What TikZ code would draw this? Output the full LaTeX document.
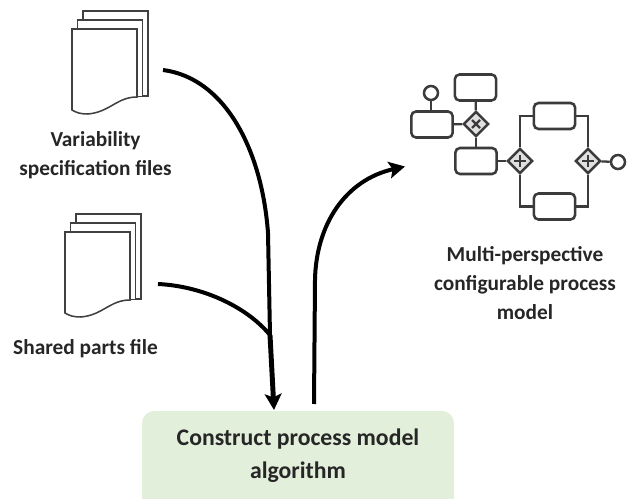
\documentclass[tikz,border=0pt]{standalone}
\usepackage{fontspec}
\setmainfont{Carlito}
\usetikzlibrary{arrows.meta}
\usetikzlibrary{shapes.geometric}
\usetikzlibrary{positioning}
\definecolor{linegray}{HTML}{3C3A3C}
\definecolor{boxgreen}{HTML}{E2EFDA}
\tikzset{sheet/.style={draw=black!75,fill=white,line width=1.15pt}}
\tikzset{flow/.style={line width=3pt,black,-{Stealth[length=12pt,width=12.5pt,inset=2.5pt]}}}
\tikzset{plain/.style={line width=3pt,black}}
\tikzset{task/.style={rectangle,rounded corners=3.5pt,draw=linegray,fill=white,line width=1.9pt,minimum width=31pt,minimum height=19.5pt,inner sep=0pt}}
\tikzset{gate/.style={diamond,draw=linegray,fill=black!12,line width=1.9pt,minimum size=19pt,inner sep=0pt}}
\tikzset{event/.style={circle,draw=linegray,fill=white,line width=1.9pt,minimum size=10.5pt,inner sep=0pt}}
\tikzset{link/.style={draw=linegray,line width=1.7pt}}
\tikzset{gatemark/.style={draw=linegray,line width=1.6pt}}
\tikzset{lbl/.style={font=\bfseries\fontsize{16}{22}\selectfont,text=black!85,align=center}}
\tikzset{algolbl/.style={font=\bfseries\fontsize{17.8}{24.5}\selectfont,text=black!85,align=center}}
\begin{document}
\begin{tikzpicture}[x=0.75pt,y=-0.75pt]
\useasboundingbox (0,0) rectangle (636,499);
% algorithm box runs off the bottom edge
\begin{scope}
\clip (0,0) rectangle (636,499);
\fill[boxgreen,rounded corners=9pt] (142,411) rectangle (454,515);
\end{scope}
\node[algolbl] (algo) at (298,456) {Construct process model\\algorithm};
\coordinate (algoin) at (274,410);
\coordinate (algoout) at (314,404);

% two stacks of pages
\foreach \name/\x/\y in {varspec/72/29,shared/65/232} {
	\foreach \d in {2,1} {
		\draw[sheet] (\x+5*\d+0.5*\d,\y-9*\d) rectangle (\x+65+5.5*\d,\y+68-0.5*\d);
	}
	\draw[sheet] (\x,\y) -- (\x+65,\y) -- (\x+65,\y+68)
		.. controls (\x+45,\y+68) and (\x+38,\y+83) .. (\x+16,\y+85)
		.. controls (\x+9,\y+85) and (\x+5,\y+84) .. (\x,\y+81) -- cycle;
	\coordinate (\name) at (\x,\y);
}
\node[lbl] (varlabel) at (95.5,155) {Variability\\specification files};
\node[lbl] (sharedlabel) at (85.5,349) {Shared parts file};
\node[lbl] (modellabel) at (525,283) {Multi-perspective\\configurable process\\model};

% arrows
\coordinate (varout) at (163,70);
\coordinate (sharedout) at (158,284);
\coordinate (join) at (270,335);
\coordinate (modelin) at (405,166.5);
\draw[plain] (varout) .. controls (225,78) and (262,150) .. (268,233) -- (join);
\draw[plain] (sharedout) .. controls (200,286) and (245,305) .. (join);
\draw[flow,line width=3.7pt] (join) -- (algoin);
\draw[flow] (algoout) -- (315,280) .. controls (316,225) and (345,180) .. (modelin);

% process model
\foreach \name/\x/\y in {taskA/432/124.5,taskB/475.5/87.5,taskC/476/161,taskD/554.5/116,taskE/554.5/206.5} {
	\node[task] (\name) at (\x,\y) {};
}
\foreach \name/\x/\y in {gateX/476/124,gateL/520/161,gateR/588/161} {
	\node[gate] (\name) at (\x,\y) {};
}
\node[event] (start) at (431,93) {};
\node[event] (end) at (618,162) {};

\draw[gatemark] (gateX) +(-4,-4) -- +(4,4) +(-4,4) -- +(4,-4);
\foreach \g in {gateL,gateR} {
	\draw[gatemark] (\g) +(-6,0) -- +(6,0) +(0,-6) -- +(0,6);
}
\draw[link] (start) -- (start |- taskA.north);
\draw[link] (taskA) -- (gateX);
\draw[link] (gateX) -- (taskB);
\draw[link] (gateX) -- (taskC);
\draw[link] (taskC) -- (gateL);
\draw[link] (gateL) |- (taskD);
\draw[link] (gateL) |- (taskE);
\draw[link] (taskD) -| (gateR);
\draw[link] (taskE) -| (gateR);
\draw[link] (gateR) -- (end);
\end{tikzpicture}
\end{document}
